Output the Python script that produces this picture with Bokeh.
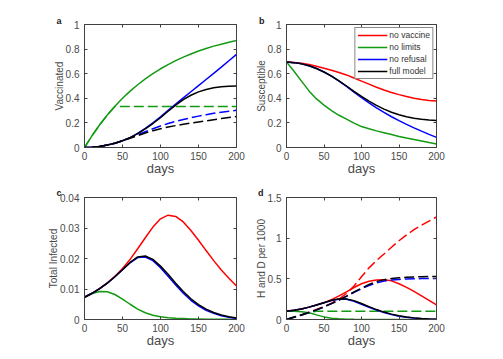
from bokeh.plotting import figure
from bokeh.layouts import gridplot
from bokeh.models import (FixedTicker, CustomJSTickFormatter, LinearAxis,
                          Legend, LegendItem, Range1d)
from bokeh.embed import file_html
from bokeh.resources import INLINE

# ---------------- data ----------------
days = [0, 10, 20, 30, 40, 50, 60, 70, 80, 90, 100, 110, 120, 130, 140, 150, 160, 170, 180, 190, 200]

series_names = ["no vaccine", "no limits", "no refusal", "full model"]
panel_letters = ["a", "b", "c", "d"]

# (a) Vaccinated
a_no_limits = [0, 0.097, 0.185, 0.264, 0.335, 0.40, 0.458, 0.51, 0.558, 0.60, 0.64, 0.674, 0.706, 0.735, 0.76, 0.784, 0.805, 0.824, 0.84, 0.856, 0.87]
a_no_limits_dash = [0, 0.097, 0.185, 0.264, 0.333, 0.333, 0.333, 0.333, 0.333, 0.333, 0.333, 0.333, 0.333, 0.333, 0.333, 0.333, 0.333, 0.333, 0.333, 0.333, 0.333]
a_no_refusal = [0, 0.003, 0.009, 0.02, 0.035, 0.055, 0.08, 0.115, 0.155, 0.2, 0.25, 0.302, 0.353, 0.403, 0.453, 0.503, 0.553, 0.603, 0.653, 0.705, 0.757]
a_no_refusal_dash = [0, 0.003, 0.009, 0.02, 0.035, 0.055, 0.078, 0.103, 0.128, 0.152, 0.175, 0.195, 0.213, 0.228, 0.242, 0.255, 0.267, 0.278, 0.287, 0.295, 0.302]
a_full = [0, 0.003, 0.009, 0.02, 0.035, 0.055, 0.08, 0.113, 0.152, 0.195, 0.242, 0.295, 0.345, 0.39, 0.425, 0.452, 0.472, 0.486, 0.494, 0.498, 0.5]
a_full_dash = [0, 0.003, 0.009, 0.02, 0.035, 0.055, 0.075, 0.097, 0.118, 0.137, 0.153, 0.166, 0.178, 0.189, 0.199, 0.208, 0.217, 0.226, 0.235, 0.244, 0.252]

# (b) Susceptible
b_no_vaccine = [0.695, 0.692, 0.685, 0.675, 0.66, 0.645, 0.628, 0.61, 0.59, 0.565, 0.54, 0.515, 0.49, 0.468, 0.447, 0.43, 0.414, 0.4, 0.39, 0.383, 0.378]
b_no_limits = [0.695, 0.62, 0.54, 0.46, 0.395, 0.345, 0.3, 0.262, 0.23, 0.198, 0.17, 0.152, 0.135, 0.12, 0.105, 0.09, 0.077, 0.065, 0.053, 0.04, 0.028]
b_no_refusal = [0.695, 0.69, 0.68, 0.664, 0.642, 0.614, 0.58, 0.54, 0.497, 0.45, 0.405, 0.362, 0.322, 0.285, 0.25, 0.218, 0.188, 0.16, 0.133, 0.107, 0.082]
b_full = [0.695, 0.69, 0.68, 0.664, 0.642, 0.614, 0.58, 0.542, 0.5, 0.457, 0.415, 0.377, 0.342, 0.312, 0.287, 0.266, 0.25, 0.238, 0.229, 0.223, 0.22]

# (c) Total Infected
c_no_vaccine = [0.0073, 0.0086, 0.0102, 0.012, 0.0142, 0.0167, 0.0197, 0.0232, 0.0268, 0.0303, 0.033, 0.0342, 0.0338, 0.032, 0.0292, 0.026, 0.0226, 0.0193, 0.0162, 0.0135, 0.011]
c_no_limits = [0.0073, 0.0085, 0.0092, 0.0091, 0.0082, 0.0067, 0.005, 0.0034, 0.0022, 0.0014, 0.0009, 0.0006, 0.0004, 0.0003, 0.0002, 0.00015, 0.0001, 0.0001, 0.00005, 0.00005, 0.0]
c_no_refusal = [0.0073, 0.0086, 0.0101, 0.0119, 0.014, 0.0163, 0.0186, 0.0203, 0.0205, 0.0193, 0.017, 0.0142, 0.0113, 0.0086, 0.0063, 0.0045, 0.003, 0.002, 0.0012, 0.0007, 0.0003]
c_full = [0.0073, 0.0086, 0.0101, 0.0119, 0.014, 0.0163, 0.0187, 0.0205, 0.0208, 0.0197, 0.0175, 0.0148, 0.0119, 0.0092, 0.0068, 0.0049, 0.0034, 0.0023, 0.0015, 0.0009, 0.0005]

# (d) H (solid) and D (dashed) per 1000
d_no_vaccine_H = [0.1, 0.113, 0.13, 0.152, 0.178, 0.208, 0.245, 0.29, 0.34, 0.393, 0.44, 0.47, 0.485, 0.488, 0.475, 0.44, 0.395, 0.345, 0.29, 0.235, 0.18]
d_no_vaccine_D = [0, 0.03, 0.06, 0.09, 0.125, 0.16, 0.2, 0.25, 0.32, 0.41, 0.525, 0.635, 0.725, 0.805, 0.888, 0.968, 1.04, 1.105, 1.16, 1.21, 1.26]
d_no_limits_H = [0.1, 0.1, 0.096, 0.082, 0.057, 0.032, 0.016, 0.008, 0.004, 0.002, 0.001, 0, 0, 0, 0, 0, 0, 0, 0, 0, 0]
d_no_limits_D = [0, 0.03, 0.056, 0.085, 0.1, 0.1, 0.1, 0.1, 0.1, 0.1, 0.1, 0.1, 0.1, 0.1, 0.1, 0.1, 0.1, 0.1, 0.1, 0.1, 0.1]
d_no_refusal_H = [0.1, 0.113, 0.13, 0.152, 0.178, 0.205, 0.232, 0.25, 0.248, 0.225, 0.188, 0.15, 0.115, 0.085, 0.06, 0.041, 0.027, 0.017, 0.01, 0.006, 0.003]
d_no_refusal_D = [0, 0.028, 0.055, 0.085, 0.118, 0.155, 0.195, 0.238, 0.285, 0.333, 0.378, 0.418, 0.45, 0.472, 0.485, 0.493, 0.498, 0.501, 0.503, 0.504, 0.505]
d_full_H = [0.1, 0.113, 0.13, 0.152, 0.178, 0.207, 0.236, 0.255, 0.253, 0.232, 0.197, 0.158, 0.122, 0.091, 0.066, 0.046, 0.031, 0.02, 0.012, 0.007, 0.004]
d_full_D = [0, 0.028, 0.055, 0.085, 0.118, 0.155, 0.195, 0.24, 0.288, 0.338, 0.385, 0.43, 0.465, 0.49, 0.505, 0.513, 0.52, 0.524, 0.527, 0.529, 0.53]

x_ticks = [0, 50, 100, 150, 200]
a_yticks = [0, 0.2, 0.4, 0.6, 0.8, 1]
b_yticks = [0, 0.2, 0.4, 0.6, 0.8, 1]
c_yticks = [0, 0.01, 0.02, 0.03, 0.04]
d_yticks = [0, 0.5, 1, 1.5]

# ---------------- style ----------------
RED, GREEN, BLUE, BLACK = "#ff0000", "#139a13", "#0000ff", "#000000"
AXC = "#404040"
TXT = "#4a4a4a"
FONT = "Liberation Sans"
LW = 1.5
DASH = "10 4"

fmt = CustomJSTickFormatter(code="return String(tick);")


def make_fig(w, h, left, right, top, bottom, yr, yticks, ylabel, letter, loff, lstand):
    p = figure(width=w, height=h, min_border_left=left, min_border_right=right,
               min_border_top=top, min_border_bottom=bottom,
               x_range=Range1d(0, 200), y_range=Range1d(yr[0], yr[1]),
               output_backend="svg", toolbar_location=None)
    p.grid.visible = False
    p.outline_line_color = AXC
    p.outline_line_width = 1
    p.outline_line_alpha = 1
    p.background_fill_color = "white"
    p.border_fill_color = "white"
    # panel letter as title, shifted left of the frame
    p.title.text = letter
    p.title.align = "left"
    p.title.offset = loff
    p.title.standoff = lstand
    p.title.text_font = FONT
    p.title.text_font_size = "9px"
    p.title.text_font_style = "bold"
    p.title.text_color = "#222222"
    for ax, ticks in ((p.xaxis[0], x_ticks), (p.yaxis[0], yticks)):
        ax.ticker = FixedTicker(ticks=ticks)
        ax.formatter = fmt
        ax.minor_tick_line_color = None
        ax.major_tick_in = 3
        ax.major_tick_out = 0
        ax.major_tick_line_color = AXC
        ax.axis_line_color = AXC
        ax.major_label_text_font = FONT
        ax.major_label_text_font_size = "10px"
        ax.major_label_text_color = TXT
        ax.axis_label_text_font = FONT
        ax.axis_label_text_font_style = "normal"
        ax.axis_label_text_color = TXT
    p.xaxis[0].axis_label = "days"
    p.xaxis[0].axis_label_text_font_size = "13px"
    p.xaxis[0].axis_label_standoff = -2
    p.xaxis[0].major_label_standoff = 4
    p.yaxis[0].axis_label = ylabel
    p.yaxis[0].axis_label_text_font_size = "10px"
    p.yaxis[0].axis_label_standoff = -2
    p.yaxis[0].major_label_standoff = 5
    # mirrored ticks (box on), no labels
    for side, ticks in (("right", yticks), ("above", x_ticks)):
        ax = LinearAxis(ticker=FixedTicker(ticks=ticks), formatter=fmt)
        ax.major_label_text_font_size = "1px"
        ax.major_label_text_color = None
        ax.major_label_standoff = 0
        ax.minor_tick_line_color = None
        ax.major_tick_in = 3
        ax.major_tick_out = 0
        ax.major_tick_line_color = AXC
        ax.axis_line_color = None
        p.add_layout(ax, side)
    return p


pa = make_fig(248, 180, 84, 12, 24, 33, (0, 1), a_yticks, "Vaccinated", panel_letters[0], -28, -3)
pb = make_fig(247, 180, 38, 59, 24, 33, (0, 1), b_yticks, "Susceptible", panel_letters[1], -27.5, -3)
pc = make_fig(248, 171, 84, 12, 17, 32, (0, 0.04), c_yticks, "Total Infected", panel_letters[2], -28, -1)
pd = make_fig(247, 171, 38, 59, 17, 32, (0, 1.5), d_yticks, "H and D per 1000", panel_letters[3], -28.5, -1)

# (a)
pa.line(days, a_no_limits, color=GREEN, line_width=LW)
pa.line(days, a_no_limits_dash, color=GREEN, line_width=LW, line_dash=DASH)
pa.line(days, a_no_refusal, color=BLUE, line_width=LW)
pa.line(days, a_no_refusal_dash, color=BLUE, line_width=LW, line_dash=DASH)
pa.line(days, a_full, color=BLACK, line_width=LW)
pa.line(days, a_full_dash, color=BLACK, line_width=LW, line_dash=DASH)

# (b)
rb = []
for ys, col in ((b_no_vaccine, RED), (b_no_limits, GREEN), (b_no_refusal, BLUE), (b_full, BLACK)):
    rb.append(pb.line(days, ys, color=col, line_width=LW))
legend = Legend(items=[LegendItem(label=n, renderers=[r]) for n, r in zip(series_names, rb)],
                location="top_right")
legend.margin = 3
legend.padding = 2
legend.spacing = 2
legend.glyph_width = 30
legend.glyph_height = 10
legend.label_height = 10
legend.label_standoff = 2
legend.label_text_font = FONT
legend.label_text_font_size = "8.5px"
legend.label_text_color = "#333333"
legend.border_line_color = "#111111"
legend.border_line_width = 1
legend.background_fill_color = "white"
legend.background_fill_alpha = 1
pb.add_layout(legend)

# (c)
for ys, col in ((c_no_vaccine, RED), (c_no_limits, GREEN), (c_no_refusal, BLUE), (c_full, BLACK)):
    pc.line(days, ys, color=col, line_width=LW)

# (d)
for yh, yd, col in ((d_no_vaccine_H, d_no_vaccine_D, RED), (d_no_limits_H, d_no_limits_D, GREEN),
                    (d_no_refusal_H, d_no_refusal_D, BLUE), (d_full_H, d_full_D, BLACK)):
    pd.line(days, yh, color=col, line_width=LW)
    pd.line(days, yd, color=col, line_width=LW, line_dash=DASH)

grid = gridplot([[pa, pb], [pc, pd]], toolbar_location=None)

open("out.html", "w").write(file_html(grid, INLINE))
